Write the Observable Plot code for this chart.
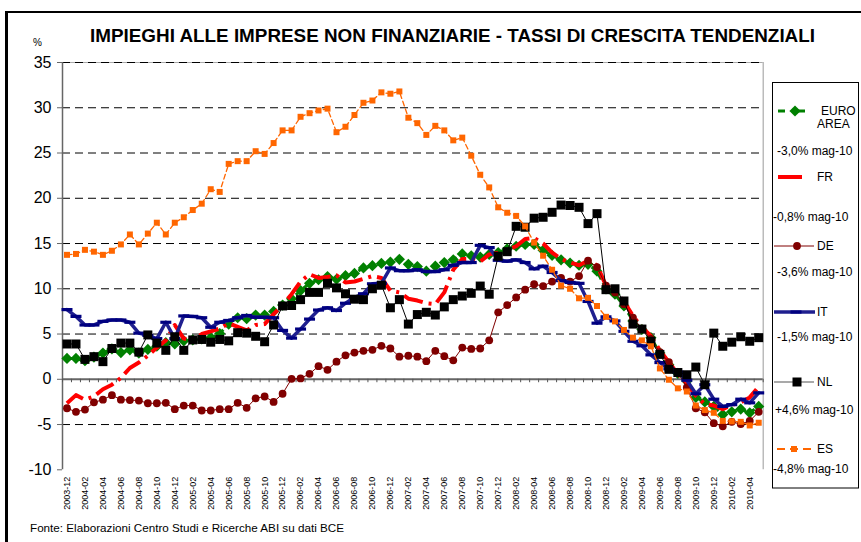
<!DOCTYPE html>
<html><head><meta charset="utf-8">
<script src="https://cdn.jsdelivr.net/npm/d3@7"></script>
<script src="https://cdn.jsdelivr.net/npm/@observablehq/plot@0.6"></script>
<style>
body{margin:0;background:#fff;}
#wrap{position:relative;width:861px;height:542px;overflow:hidden;background:#fff;font-family:"Liberation Sans",Arial,sans-serif;}
#wrap svg{position:absolute;left:0;top:0;}
</style></head><body><div id="wrap"></div>
<script>
const months = ["2003-12",
"2004-01","2004-02","2004-03","2004-04","2004-05","2004-06","2004-07","2004-08","2004-09","2004-10","2004-11","2004-12",
"2005-01","2005-02","2005-03","2005-04","2005-05","2005-06","2005-07","2005-08","2005-09","2005-10","2005-11","2005-12",
"2006-01","2006-02","2006-03","2006-04","2006-05","2006-06","2006-07","2006-08","2006-09","2006-10","2006-11","2006-12",
"2007-01","2007-02","2007-03","2007-04","2007-05","2007-06","2007-07","2007-08","2007-09","2007-10","2007-11","2007-12",
"2008-01","2008-02","2008-03","2008-04","2008-05","2008-06","2008-07","2008-08","2008-09","2008-10","2008-11","2008-12",
"2009-01","2009-02","2009-03","2009-04","2009-05","2009-06","2009-07","2009-08","2009-09","2009-10","2009-11","2009-12",
"2010-01","2010-02","2010-03","2010-04","2010-05"];

const euroArea = [2.3,2.3,2.05,2.45,2.9,3.35,2.95,3.25,2.9,3.3,
3.65,4.05,3.9,4.25,4.35,4.45,4.6,5.05,6.1,6.8,
6.7,7.1,7.1,7.5,8.2,8.9,9.8,10.6,11.0,11.35,
11.05,11.45,11.7,12.3,12.55,12.8,12.95,13.25,12.7,12.45,
11.95,12.5,12.9,13.2,13.85,13.65,13.5,13.8,14.0,14.4,
14.7,14.9,14.9,14.25,13.7,13.2,12.85,12.6,12.7,11.95,
10.0,9.4,8.1,6.45,5.5,4.6,2.9,1.6,0.65,-0.2,
-2.0,-2.5,-3.0,-3.9,-3.6,-3.3,-3.7,-3.0];

const fr = [-2.65,-1.75,-2.25,-1.9,-1.1,-0.6,0.15,1.25,1.85,2.6,
3.5,4.3,6.0,4.5,4.3,5.0,5.3,5.6,6.2,5.8,
5.4,6.0,6.1,7.2,8.2,9.4,10.8,11.6,11.2,11.3,
11.5,10.7,10.8,11.1,11.4,11.2,9.8,9.6,8.9,8.7,
8.4,8.3,9.6,12.1,13.3,13.3,13.0,13.8,14.0,14.3,
14.7,15.5,15.6,15.0,14.0,13.3,12.9,12.6,13.1,12.6,
10.35,9.8,8.6,7.0,5.75,4.8,3.2,1.9,0.6,-0.5,
-1.8,-2.75,-2.9,-3.3,-2.85,-2.55,-2.0,-0.8];

const de = [-3.2,-3.6,-3.35,-2.55,-2.25,-1.75,-2.25,-2.3,-2.35,-2.65,
-2.65,-2.6,-3.3,-2.9,-2.9,-3.45,-3.45,-3.3,-3.3,-2.6,
-3.15,-2.1,-1.9,-2.5,-1.6,0.05,0.1,0.6,1.45,1.05,
1.95,2.65,2.95,3.15,3.25,3.7,3.4,2.5,2.6,2.5,
2.0,3.15,2.55,2.1,3.5,3.35,3.4,4.3,7.4,8.2,
9.05,9.9,10.5,10.3,10.8,11.2,10.8,11.4,13.1,12.4,
10.35,9.6,8.3,6.8,5.6,4.45,3.0,1.9,0.75,-0.9,
-3.2,-3.65,-4.85,-5.2,-4.7,-4.95,-4.6,-3.6];

const it = [7.7,6.95,6.0,6.0,6.4,6.55,6.55,6.3,5.1,4.85,
4.5,6.3,4.5,7.0,6.95,6.8,5.75,6.3,6.5,6.8,
7.05,6.85,6.85,6.8,5.4,4.55,5.55,6.65,7.65,7.9,
7.6,8.4,9.05,9.45,10.55,10.6,12.3,12.0,12.0,12.1,
11.9,11.9,12.1,12.6,12.9,12.9,14.8,14.55,13.15,13.05,
13.2,12.9,12.2,12.5,11.8,10.9,10.7,10.6,8.6,6.2,
6.9,6.45,5.3,4.2,3.7,2.7,1.85,1.15,0.8,-0.1,
-1.6,-0.6,-2.2,-3.0,-2.8,-2.2,-2.6,-1.5];

const nl = [3.9,3.9,2.2,2.5,1.95,3.4,4.0,4.0,3.0,4.9,
4.0,3.2,4.7,3.2,4.35,4.4,4.1,4.4,4.25,5.15,
5.1,4.75,4.15,6.0,8.1,8.15,8.8,9.6,9.6,10.6,
10.1,9.45,8.85,8.8,10.0,10.4,7.9,8.8,6.1,7.15,
7.4,7.1,8.0,8.8,9.2,9.5,10.3,9.4,13.6,14.1,
16.9,16.8,17.8,17.9,18.45,19.25,19.2,19.0,17.2,18.3,
9.9,10.0,8.65,6.1,5.55,4.2,2.75,1.1,0.75,0.5,
1.35,-0.6,5.1,3.65,4.1,4.7,4.2,4.6];

const es = [13.75,13.85,14.3,14.1,13.75,14.2,14.9,16.0,14.9,16.1,
17.3,16.0,17.3,17.9,18.7,19.4,21.0,20.7,23.8,24.1,
24.1,25.2,24.9,26.1,27.5,27.5,29.0,29.4,29.7,29.9,
27.3,27.9,29.2,30.55,30.8,31.7,31.55,31.8,28.9,28.3,
27.0,28.0,27.5,26.4,26.7,24.7,22.6,21.2,19.0,18.4,
18.05,16.9,15.1,13.65,12.1,10.35,10.0,8.95,9.0,8.1,
6.9,6.4,5.45,4.6,4.3,3.65,1.2,-0.05,-1.0,-1.35,
-2.9,-3.4,-3.7,-4.6,-4.65,-4.7,-5.1,-4.8];

const yTicks = [-10,-5,0,5,10,15,20,25,30,35];
const gridValues = [-5,5,10,15,20,25,30,35];
const tickLabels = months.filter((m, i) => i % 2 === 0);

const seriesNames = ["EURO AREA","FR","DE","IT","NL","ES"];
const seriesNotes = ["-3,0% mag-10","-0,8% mag-10","-3,6% mag-10","-1,5% mag-10","+4,6% mag-10","-4,8% mag-10"];

const titleText = "IMPIEGHI ALLE IMPRESE NON FINANZIARIE - TASSI DI CRESCITA TENDENZIALI";
const unitText = "%";
const sourceText = "Fonte: Elaborazioni Centro Studi e Ricerche ABI su dati BCE";

const C = {euro:"#008000", fr:"#ff0000", de:"#800000", it:"#1f1f8f", itMark:"#000080", nl:"#000000", es:"#ff6600"};

const toRows = vals => vals.map((v, i) => ({i, v}));
const diamondSym = {draw(ctx){ctx.moveTo(0,-5.6);ctx.lineTo(5.6,0);ctx.lineTo(0,5.6);ctx.lineTo(-5.6,0);ctx.closePath();}};
const squareSym = s => ({draw(ctx){ctx.rect(-s/2,-s/2,s,s);}});
const dashSym = {draw(ctx){ctx.rect(-5.5,-1.6,11,3.2);}};
const boundaries = d3.range(-0.5, months.length, 1);
const labelIdx = months.map((m,i)=>i).filter(i => i % 2 === 0);

const chart = Plot.plot({
  width: 861, height: 542,
  marginLeft: 62, marginRight: 98.3, marginTop: 62, marginBottom: 72.7,
  style: {fontFamily: "'Liberation Sans', Arial, sans-serif", background: "transparent", color: "#000"},
  x: {type: "linear", domain: [-0.5, months.length - 0.5]},
  y: {domain: [-10, 35]},
  marks: [
    Plot.ruleY([35], {stroke: "#aaa", strokeWidth: 1.2}),
    Plot.ruleY(gridValues, {stroke: "#000", strokeWidth: 1, strokeDasharray: "8,5"}),
    Plot.ruleX([months.length - 0.5], {stroke: "#aaa", strokeWidth: 1.2}),
    Plot.ruleX([-0.5], {stroke: "#666", strokeWidth: 1.5}),
    Plot.axisY({ticks: yTicks, tickSize: 5, tickPadding: 6, fontSize: 16, label: null, tickFormat: d => String(d), stroke: "#666"}),
    Plot.axisX({ticks: labelIdx, tickFormat: i => months[i], tickRotate: -90, tickSize: 0, tickPadding: 7, fontSize: 9, label: null}),
    Plot.ruleY([0], {stroke: "#666", strokeWidth: 2}),
    Plot.ruleX(boundaries, {y1: 0, y2: -0.38, stroke: "#555", strokeWidth: 1}),
    // EURO AREA
    Plot.line(toRows(euroArea), {x: "i", y: "v", stroke: C.euro, strokeWidth: 3, strokeDasharray: "6,4", strokeLinecap: "butt"}),
    Plot.dot(toRows(euroArea), {x: "i", y: "v", symbol: diamondSym, fill: C.euro, stroke: "none"}),
    // FR
    Plot.line(toRows(fr), {x: "i", y: "v", stroke: C.fr, strokeWidth: 4, strokeDasharray: "20,6,3,6", strokeLinecap: "butt"}),
    // DE
    Plot.line(toRows(de), {x: "i", y: "v", stroke: C.de, strokeWidth: 1}),
    Plot.dot(toRows(de), {x: "i", y: "v", r: 3.9, fill: C.de, stroke: "none"}),
    // IT
    Plot.line(toRows(it), {x: "i", y: "v", stroke: C.it, strokeWidth: 3.5}),
    Plot.dot(toRows(it), {x: "i", y: "v", symbol: dashSym, fill: C.itMark, stroke: "none"}),
    // NL
    Plot.line(toRows(nl), {x: "i", y: "v", stroke: C.nl, strokeWidth: 1}),
    Plot.dot(toRows(nl), {x: "i", y: "v", symbol: squareSym(9), fill: C.nl, stroke: "none"}),
    // ES
    Plot.line(toRows(es), {x: "i", y: "v", stroke: C.es, strokeWidth: 1.3, strokeDasharray: "5,3"}),
    Plot.dot(toRows(es), {x: "i", y: "v", symbol: squareSym(6), fill: C.es, stroke: "none"})
  ]
});
const wrap = document.getElementById("wrap");
wrap.appendChild(chart);

// overlay: frame, title, unit, caption, legend
const ov = d3.select(wrap).append("svg").attr("width", 861).attr("height", 542)
  .style("font-family", "'Liberation Sans', Arial, sans-serif");
ov.append("line").attr("x1", 6.5).attr("x2", 6.5).attr("y1", 11).attr("y2", 542).attr("stroke", "#000").attr("stroke-width", 3);
ov.append("line").attr("x1", 5).attr("x2", 861).attr("y1", 12).attr("y2", 12).attr("stroke", "#000").attr("stroke-width", 2);
ov.append("text").attr("x", 90).attr("y", 42).attr("font-size", 18).attr("font-weight", "bold")
  .attr("textLength", 725).attr("lengthAdjust", "spacingAndGlyphs").text(titleText);
ov.append("text").attr("x", 33).attr("y", 46).attr("font-size", 10).text(unitText);
ov.append("text").attr("x", 30).attr("y", 532).attr("font-size", 11)
  .attr("textLength", 314).attr("lengthAdjust", "spacingAndGlyphs").text(sourceText);

const lg = ov.append("g");
lg.append("rect").attr("x", 772.5).attr("y", 82.5).attr("width", 86).attr("height", 405.5)
  .attr("fill", "#fff").attr("stroke", "#000").attr("stroke-width", 1);
const ly = [111, 177, 246, 312, 382, 449];
const noteY = [155, 221, 276, 341, 414, 473];
const noteX = [777, 773, 777, 777, 775, 773];
// EURO AREA sample
lg.append("line").attr("x1", 778).attr("x2", 807).attr("y1", ly[0]).attr("y2", ly[0]).attr("stroke", C.euro).attr("stroke-width", 3).attr("stroke-dasharray", "7,13");
lg.append("path").attr("d", d3.symbol(diamondSym)()).attr("transform", `translate(795,${ly[0]})`).attr("fill", C.euro);
lg.append("text").attr("x", 821).attr("y", 115).attr("font-size", 12).text(seriesNames[0].split(" ")[0]);
lg.append("text").attr("x", 817).attr("y", 128).attr("font-size", 12).text(seriesNames[0].split(" ")[1]);
// FR sample
lg.append("line").attr("x1", 778).attr("x2", 802).attr("y1", ly[1]).attr("y2", ly[1]).attr("stroke", C.fr).attr("stroke-width", 4);
// DE sample
lg.append("line").attr("x1", 774).attr("x2", 814).attr("y1", ly[2]).attr("y2", ly[2]).attr("stroke", C.de).attr("stroke-width", 1);
lg.append("circle").attr("cx", 797).attr("cy", ly[2]).attr("r", 3.9).attr("fill", C.de);
// IT sample
lg.append("line").attr("x1", 774).attr("x2", 815).attr("y1", ly[3]).attr("y2", ly[3]).attr("stroke", C.it).attr("stroke-width", 3.5);
lg.append("path").attr("d", d3.symbol(dashSym)()).attr("transform", `translate(796,${ly[3]})`).attr("fill", C.itMark);
// NL sample
lg.append("line").attr("x1", 774).attr("x2", 814).attr("y1", ly[4]).attr("y2", ly[4]).attr("stroke", "#555").attr("stroke-width", 1.2);
lg.append("path").attr("d", d3.symbol(squareSym(9))()).attr("transform", `translate(797,${ly[4]})`).attr("fill", C.nl);
// ES sample
lg.append("line").attr("x1", 777).attr("x2", 812).attr("y1", ly[5]).attr("y2", ly[5]).attr("stroke", C.es).attr("stroke-width", 2).attr("stroke-dasharray", "8,5");
lg.append("path").attr("d", d3.symbol(squareSym(6))()).attr("transform", `translate(794,${ly[5]})`).attr("fill", C.es);
seriesNames.forEach((n, k) => {
  if (k > 0) lg.append("text").attr("x", 817).attr("y", ly[k] + 4).attr("font-size", 12).text(n);
  lg.append("text").attr("x", noteX[k]).attr("y", noteY[k]).attr("font-size", 12).text(seriesNotes[k]);
});
</script></body></html>
